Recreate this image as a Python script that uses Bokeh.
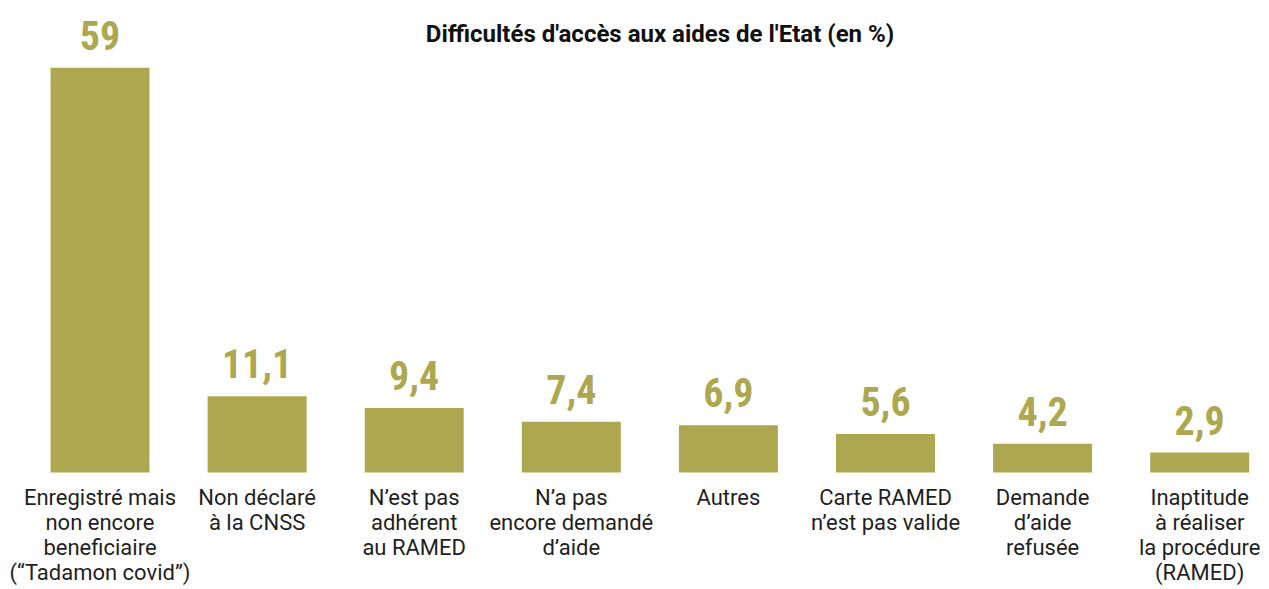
from bokeh.plotting import figure
from bokeh.models import ColumnDataSource, Range1d, Label
from bokeh.core.properties import value
from bokeh.embed import file_html
from bokeh.resources import INLINE
import numpy as np

title = "Difficultés d'accès aux aides de l'Etat (en %)"
categories = [
    "Enregistré mais\nnon encore\nbeneficiaire\n(\u201cTadamon covid\u201d)",
    "Non déclaré\nà la CNSS",
    "N\u2019est pas\nadhérent\nau RAMED",
    "N\u2019a pas\nencore demandé\nd\u2019aide",
    "Autres",
    "Carte RAMED\nn\u2019est pas valide",
    "Demande\nd\u2019aide\nrefusée",
    "Inaptitude\nà réaliser\nla procédure\n(RAMED)",
]
values = [59, 11.1, 9.4, 7.4, 6.9, 5.6, 4.2, 2.9]

BAR = "#ADA84F"
W, H = 1269, 589
step = 157.1          # px between bar centres
x0_px = 99.5          # px position of first bar centre
base_px = 472         # px of zero line from top
ppu = 6.86            # px per unit

xs = np.arange(len(categories))
labels = [("%g" % v).replace(".", ",") for v in values]
src = ColumnDataSource(dict(x=xs, top=values, lab=labels, cat=categories,
                            zero=[0] * len(values)))

p = figure(width=W, height=H, output_backend="svg", toolbar_location=None,
           min_border=0, outline_line_color=None,
           x_range=Range1d(-x0_px / step, -x0_px / step + W / step),
           y_range=Range1d(-(H - base_px) / ppu, base_px / ppu))
p.axis.visible = False
p.grid.visible = False
p.background_fill_color = "white"
p.border_fill_color = "white"

p.vbar(x="x", top="top", bottom=0, width=0.63, source=src,
       fill_color=BAR, line_color=None)

p.text(x="x", y="top", text="lab", source=src, text_align="center",
       text_baseline="bottom", y_offset=-18, text_color=BAR,
       text_font=value("'Roboto Condensed', 'Open Sans Condensed', 'DejaVu Sans Condensed', sans-serif"),
       text_font_style="bold", text_font_size="40px")

p.text(x="x", y="zero", text="cat", source=src, text_align="center",
       text_baseline="top", y_offset=12, text_color="#1f1f1f",
       text_font=value("Roboto"), text_font_size="22px", text_line_height=1.0)

p.add_layout(Label(x=659.5, y=H - 33, x_units="screen", y_units="screen",
                   text=title, text_align="center", text_baseline="middle",
                   text_font="Roboto", text_font_style="bold",
                   text_font_size="24px", text_color="#111111"))

open("out.html", "w").write(file_html(p, INLINE))
